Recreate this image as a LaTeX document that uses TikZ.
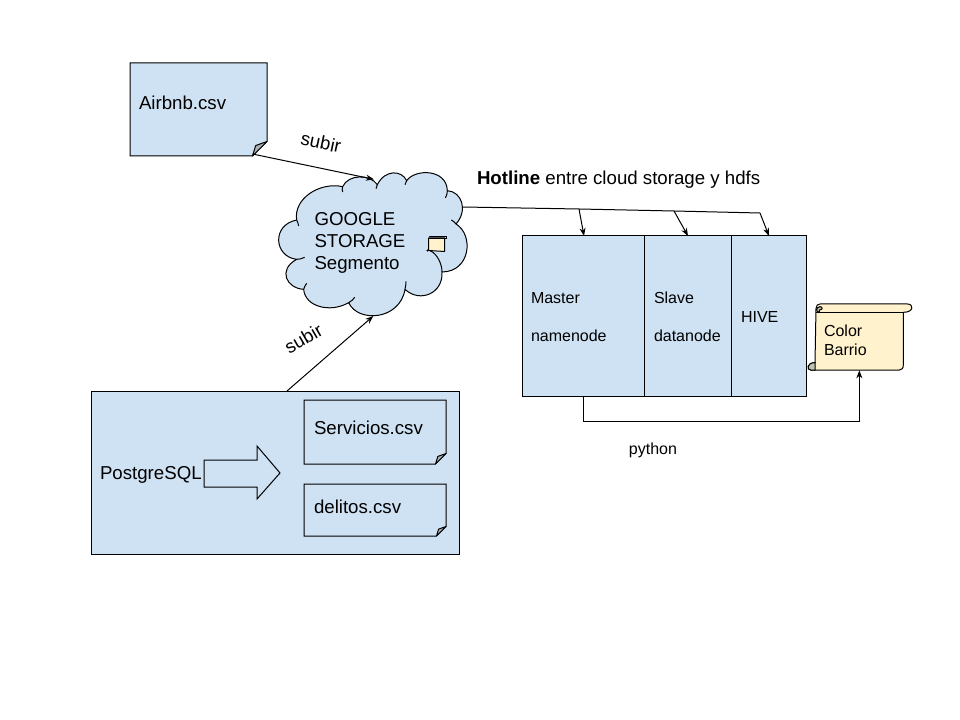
\documentclass[tikz,border=0pt]{standalone}
\usepackage{fontspec}
\setmainfont{Liberation Sans}
\usetikzlibrary{arrows.meta}
\definecolor{boxblue}{HTML}{CFE2F3}
\definecolor{scrollyellow}{HTML}{FFF2CC}
\definecolor{foldgrey}{HTML}{A9B1B8}
\definecolor{curlgrey}{HTML}{C2C2B0}
\tikzset{
  x=0.75pt,y=-0.75pt,
  ln/.style={draw=black,line width=0.75pt},
  bluebox/.style={ln,fill=boxblue,anchor=north west,inner sep=0pt,outer sep=0pt},
  arrowline/.style={ln,-{Stealth[length=6pt,width=4.5pt]}},
  lab/.style={inner sep=0pt,outer sep=0pt,anchor=west,align=left},
  big/.style={lab,font=\fontsize{14pt}{17pt}\selectfont},
  small/.style={lab,font=\fontsize{12pt}{14.5pt}\selectfont},
  notefold/.style={ln,fill=foldgrey,line join=round},
}
\newcommand{\notebox}[6]{% x1,y1,x2,y2,cut,name
  \path[ln,fill=boxblue] (#1,#2) -- (#3,#2) -- (#3,#4-#5) -- (#3-#5,#4) -- (#1,#4) -- cycle;
  \path[notefold] (#3-#5,#4) -- (#3-#5*0.78,#4-#5*0.72) -- (#3,#4-#5) -- cycle;
  \coordinate (#6) at (#3-#5,#4-2);
}
\begin{document}
\begin{tikzpicture}
\useasboundingbox (0,0) rectangle (960,720);
\fill[white] (0,0) rectangle (960,720);

% Airbnb note
\notebox{130}{63}{267}{156}{14.5}{airbnbcorner}
\node[big] (airbnb) at (139,103) {Airbnb.csv};

% cloud
\begin{scope}[shift={(270,160)},x=0.25pt,y=-0.25pt]
\path[ln,fill=boxblue,line join=round]
  (80,180)
  .. controls (70,115) and (150,65) .. (218,80)
  .. controls (235,42) and (300,42) .. (322,74)
  .. controls (345,28) and (395,30) .. (410,62)
  .. controls (435,26) and (530,26) .. (532,92)
  .. controls (575,95) and (595,150) .. (558,192)
  .. controls (612,225) and (602,335) .. (516,336)
  .. controls (520,400) and (450,430) .. (405,388)
  .. controls (390,480) and (265,490) .. (236,428)
  .. controls (180,460) and (105,440) .. (101,388)
  .. controls (50,385) and (22,330) .. (80,298)
  .. controls (12,290) and (4,195) .. (80,180) -- cycle;
\draw[line width=0.75pt]
  (80,180) .. controls (83,186) and (85,192) .. (86,198)
  (218,80) .. controls (216,85) and (216,90) .. (218,96)
  (322,74) .. controls (320,78) and (318,82) .. (318,86)
  (410,62) .. controls (408,66) and (406,70) .. (405,74)
  (532,92) .. controls (532,100) and (530,108) .. (526,114)
  (558,192) .. controls (554,186) and (548,182) .. (544,180)
  (516,336) .. controls (516,310) and (500,280) .. (480,272)
  (405,388) .. controls (407,378) and (408,372) .. (408,364)
  (236,428) .. controls (244,424) and (250,418) .. (254,412)
  (101,388) .. controls (103,380) and (106,376) .. (110,370)
  (80,298) .. controls (88,298) and (96,296) .. (104,292);
\coordinate (cloudtop) at (312,58);
\coordinate (cloudbottom) at (310,468);
\coordinate (cloudright) at (578,141);
\end{scope}
\node[big] (google) at (314.5,242.5) {\raisebox{-2pt}{GOOGLE}\\\raisebox{-1.5pt}{STORAGE}\\\raisebox{-1pt}{Segmento}};

% small scroll in cloud
\path[ln,fill=scrollyellow,line join=round] (428.5,238) -- (428.5,250.5) -- (444.5,251.5) -- (444.5,238) -- cycle;
\draw[line width=0.75pt,line cap=round] (429.5,236.5) -- (446,236.5) -- (446,239) -- (429.5,239);
\coordinate (smallcurl) at (427.5,250.5);
\fill (smallcurl) circle (1.2);

% Hotline
\node[big] (hotline) at (477,180) {\textbf{Hotline} entre cloud storage y hdfs};

% Hadoop boxes
\node[bluebox,minimum width=122*0.75pt,minimum height=160*0.75pt] (master) at (522,236) {};
\node[bluebox,minimum width=87*0.75pt,minimum height=160*0.75pt] (slave) at (644,236) {};
\node[bluebox,minimum width=75*0.75pt,minimum height=160*0.75pt] (hive) at (731,236) {};
\node[small] (mastertxt) at (531,298) {Master};
\node[small] (nametxt) at (531,336) {namenode};
\node[small] (slavetxt) at (654,298) {Slave};
\node[small] (datatxt) at (654,336) {datanode};
\node[small] (hivetxt) at (741,317) {HIVE};

% Color Barrio scroll
\begin{scope}[shift={(790,290)},x=0.25pt,y=-0.25pt]
\path[ln,fill=scrollyellow,line join=round]
  (90,42) -- (352,42) .. controls (372,42) and (372,67) .. (340,67)
  -- (340,225) .. controls (340,235) and (335,240) .. (328,240)
  -- (62,240) .. controls (50,240) and (50,218) .. (75,218)
  -- (78,55) .. controls (78,46) and (84,42) .. (90,42) -- cycle;
\draw[line width=0.75pt] (78,67) -- (340,67);
\path[ln,fill=curlgrey] (88,67) .. controls (76,66) and (78,52) .. (90,50) .. controls (98,50) and (100,60) .. (88,60) -- (88,67) -- cycle;
\path[ln,fill=curlgrey] (62,240) .. controls (50,240) and (50,218) .. (75,218) -- (75,240) -- cycle;
\coordinate (scrollbottom) at (208,241);
\end{scope}
\node[small] (colortxt) at (824,340.5) {Color\\Barrio};

% Postgres box
\node[bluebox,minimum width=368*0.75pt,minimum height=163*0.75pt] (pg) at (91,391) {};
\notebox{304}{400}{446}{464}{10.5}{servcorner}
\notebox{304}{484}{446}{536}{9.5}{delcorner}
\node[big] (servicios) at (314,427.5) {Servicios.csv};
\node[big] (delitos) at (314,506.5) {delitos.csv};
\node[big] (pgtxt) at (100,475) {PostgreSQL};
\path[ln,fill=boxblue] (204,460) -- (257,460) -- (257,446) -- (280,473) -- (257,499) -- (257,487) -- (204,487) -- cycle;

% connectors
\coordinate (pgtop) at (287,391);
\draw[arrowline] (airbnbcorner) -- (cloudtop);
\draw[arrowline] (pgtop) -- (cloudbottom);
\coordinate (b1) at (579,209);
\coordinate (b2) at (674,211);
\coordinate (b3) at (760,213);
\coordinate (t1) at (584,236);
\coordinate (t2) at (688,236);
\coordinate (t3) at (769,236);
\draw[ln] (cloudright) -- (b1) -- (b2) -- (b3);
\draw[arrowline] (b1) -- (t1);
\draw[arrowline] (b2) -- (t2);
\draw[arrowline] (b3) -- (t3);
\coordinate (masterout) at (583.5,396);
\coordinate (p1) at (583.5,421);
\draw[arrowline] (masterout) -- (p1) -| (scrollbottom);

\node[big,anchor=center,rotate=-12] (subir1) at (321,142.5) {subir};
\node[big,anchor=center,rotate=30] (subir2) at (303.5,338.5) {subir};
\node[small,anchor=center] (python) at (653,450.5) {python};
\end{tikzpicture}
\end{document}
